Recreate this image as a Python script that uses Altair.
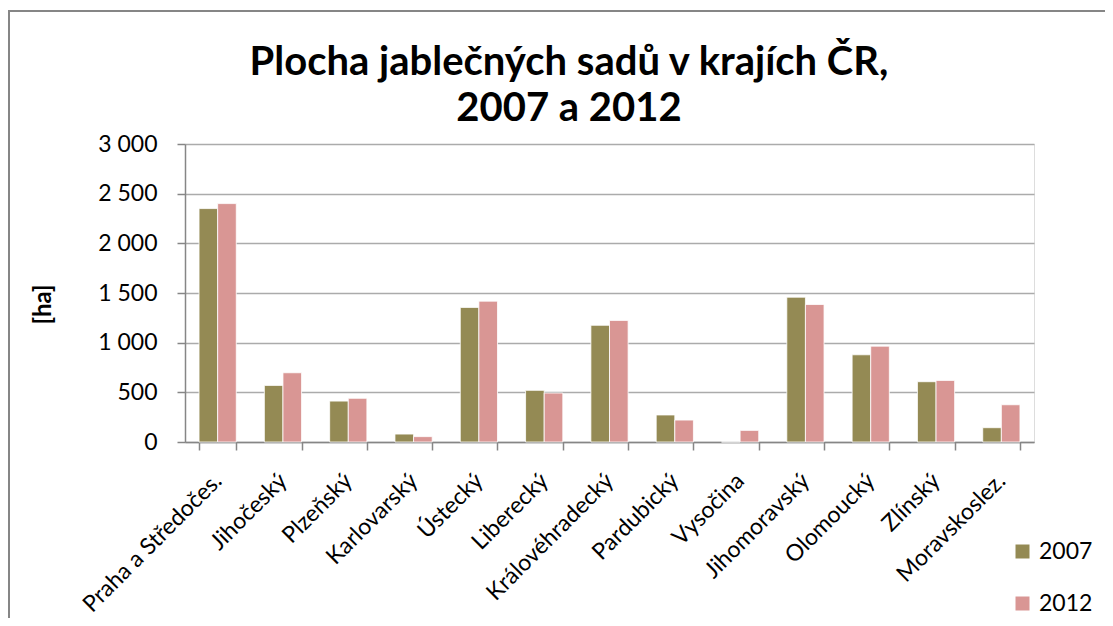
import altair as alt
import pandas as pd

regions = ["Praha a Středočes.", "Jihočeský", "Plzeňský", "Karlovarský", "Ústecký",
           "Liberecký", "Královéhradecký", "Pardubický", "Vysočina", "Jihomoravský",
           "Olomoucký", "Zlínský", "Moravskoslez."]
years = ["2007", "2012"]
area_2007 = [2350, 570, 412, 80, 1355, 520, 1175, 272, 0, 1458, 878, 607, 144]
area_2012 = [2400, 697, 440, 54, 1418, 493, 1224, 221, 117, 1384, 965, 620, 375]
colors = ["#948A54", "#D99694"]
y_ticks = [0, 500, 1000, 1500, 2000, 2500, 3000]
title_lines = ["Plocha jablečných sadů v krajích ČR,", "2007 a 2012"]

rows = []
for i, r in enumerate(regions):
    rows.append({"kraj": r, "rok": years[0], "ha": area_2007[i]})
    rows.append({"kraj": r, "rok": years[1], "ha": area_2012[i]})
df = pd.DataFrame(rows)

FONT = "Lato"
AX = "#868686"
FS = 23

bars = alt.Chart(df).mark_bar(stroke="white", strokeWidth=0.8).encode(
    x=alt.X("kraj:N", sort=regions,
            scale=alt.Scale(paddingInner=0.43, paddingOuter=0.215),
            axis=alt.Axis(title=None, labelAngle=-45, labelAlign="right", labelBaseline="middle",
                          labelFontSize=FS, labelFont=FONT, labelColor="#000000", labelLimit=400,
                          tickBand="extent", tickSize=8, tickColor=AX, tickWidth=1.5,
                          domainColor=AX, domainWidth=1.5, labelPadding=27)),
    xOffset=alt.XOffset("rok:N", sort=years,
                        scale=alt.Scale(paddingInner=0, paddingOuter=0)),
    y=alt.Y("ha:Q", scale=alt.Scale(domain=[0, 3000]),
            axis=alt.Axis(title="[ha]", titleFont=FONT, titleFontSize=24, titleFontWeight="bold",
                          titleColor="#000000", titlePadding=42, titleY=160,
                          values=y_ticks,
                          labelExpr="replace(format(datum.value, ','), ',', ' ')",
                          labelFontSize=FS, labelFont=FONT, labelColor="#000000", labelPadding=20,
                          tickSize=8, tickColor=AX, tickWidth=1.5,
                          domainColor=AX, domainWidth=1.5,
                          gridColor="#ABABAB", gridWidth=1.3)),
    color=alt.Color("rok:N", scale=alt.Scale(domain=years, range=colors),
                    legend=alt.Legend(title=None, orient="none", legendX=826, legendY=396,
                                      symbolType="square", symbolSize=196, symbolStrokeWidth=0,
                                      labelFontSize=FS, labelFont=FONT, labelColor="#000000",
                                      rowPadding=28, padding=0, labelOffset=5)),
)

frame_df = pd.DataFrame({"f": [0]})
frame_left = alt.Chart(frame_df).mark_rule(color=AX, strokeWidth=2).encode(
    x=alt.value(-176), y=alt.value(-134), y2=alt.value(700))
frame_top = alt.Chart(frame_df).mark_rule(color=AX, strokeWidth=2).encode(
    x=alt.value(-177), x2=alt.value(1200), y=alt.value(-133))

title_df = pd.DataFrame({"t": title_lines, "line": [0, 1]})
title1 = alt.Chart(title_df.iloc[[0]]).mark_text(
    font=FONT, fontSize=40, fontWeight="bold", color="#000000", align="center",
    baseline="alphabetic").encode(text="t:N", x=alt.value(384), y=alt.value(-69))
title2 = alt.Chart(title_df.iloc[[1]]).mark_text(
    font=FONT, fontSize=40, fontWeight="bold", color="#000000", align="center",
    baseline="alphabetic").encode(text="t:N", x=alt.value(384), y=alt.value(-23))

chart = alt.layer(frame_left, frame_top, title1, title2, bars).properties(
    width=849, height=298,
    padding={"left": 177, "top": 136, "right": 71, "bottom": 176},
    autosize=alt.AutoSizeParams(type="none"),
).configure_view(strokeWidth=0).configure(background="white")

chart.save("out.html", embed_options={"renderer": "svg", "actions": False})
